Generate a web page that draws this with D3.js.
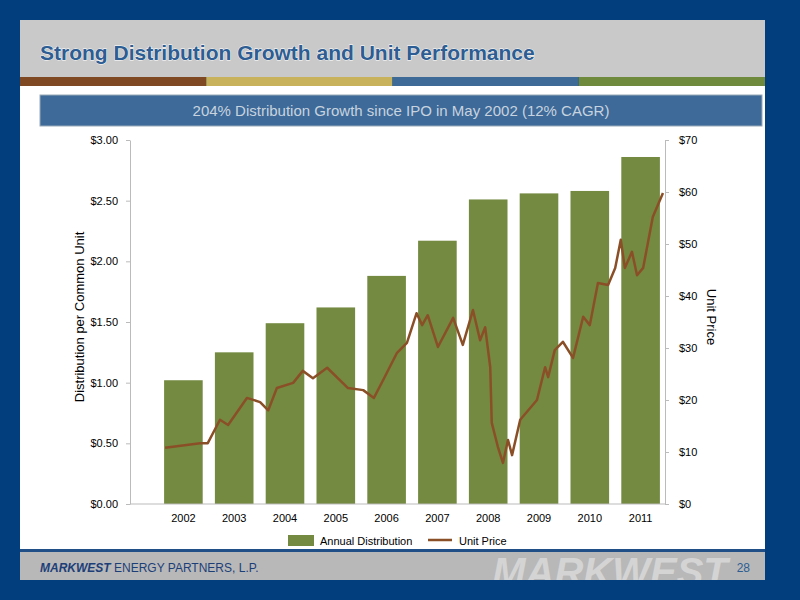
<!DOCTYPE html>
<html>
<head>
<meta charset="utf-8">
<script src="https://cdn.jsdelivr.net/npm/d3@7"></script>
<style>
  body { margin: 0; background: #023e7d; }
  text { font-family: "Liberation Sans", Arial, sans-serif; }
</style>
</head>
<body>
<svg id="chart" width="800" height="600"></svg>
<script>
// Annual distribution per common unit, by year.
var years = ['2002', '2003', '2004', '2005', '2006', '2007', '2008', '2009', '2010', '2011'];
var distribution = [1.02, 1.25, 1.49, 1.62, 1.88, 2.17, 2.51, 2.56, 2.58, 2.86];

// Unit price (decimal year, dollars).
var priceDates = [2002.14, 2002.83, 2002.98, 2003.22, 2003.38, 2003.75, 2004.01, 2004.17, 2004.34, 2004.66,
  2004.85, 2005.05, 2005.33, 2005.74, 2006.04, 2006.25, 2006.43, 2006.70, 2006.90, 2007.09,
  2007.20, 2007.31, 2007.51, 2007.81, 2008.00, 2008.20, 2008.34, 2008.44, 2008.54, 2008.57,
  2008.69, 2008.79, 2008.89, 2008.97, 2009.13, 2009.46, 2009.62, 2009.68, 2009.81, 2009.97,
  2010.17, 2010.37, 2010.50, 2010.66, 2010.86, 2011.00, 2011.11, 2011.19, 2011.33, 2011.43,
  2011.55, 2011.74, 2011.94];
var prices = [10.8, 11.7, 11.7, 16.2, 15.2, 20.4, 19.6, 18.0, 22.3, 23.3,
  25.6, 24.2, 26.2, 22.3, 21.9, 20.4, 23.8, 29.0, 31.0, 36.7,
  34.4, 36.3, 30.2, 35.8, 30.6, 37.3, 31.5, 34.0, 26.3, 15.6,
  11.0, 7.9, 12.3, 9.4, 16.2, 20.0, 26.3, 24.4, 29.6, 31.2,
  28.1, 36.0, 34.4, 42.5, 42.1, 45.4, 50.8, 45.4, 48.5, 44.0,
  45.4, 55.2, 59.8];

// Tick labels.
var leftTicks = [0, 0.5, 1, 1.5, 2, 2.5, 3];
var rightTicks = [0, 10, 20, 30, 40, 50, 60, 70];

var svg = d3.select('#chart');

// Slide frame: header band, colour stripes, white body, grey footer.
svg.append('rect').attr('x', 20).attr('y', 20).attr('width', 745).attr('height', 57).attr('fill', '#c9c9c9');
svg.append('rect').attr('x', 20).attr('y', 86).attr('width', 745).attr('height', 463).attr('fill', '#fff');
svg.append('rect').attr('x', 20).attr('y', 552).attr('width', 745).attr('height', 28).attr('fill', '#b8b8b8');
svg.append('rect').attr('x', 20).attr('y', 549).attr('width', 745).attr('height', 3).attr('fill', '#1f4f86');
var stripes = ['#7f4a23', '#c8b25c', '#3d6a97', '#6f8a3c'];
stripes.forEach(function(c, i) {
  svg.append('rect').attr('x', 20 + i * 186.25).attr('y', 77).attr('width', 186.25).attr('height', 9).attr('fill', c);
});

svg.append('text').attr('x', 40).attr('y', 60).text('Strong Distribution Growth and Unit Performance')
  .attr('font-size', 21).attr('font-weight', 'bold').attr('fill', '#2d5d93')
  .attr('stroke', '#fff').attr('stroke-width', 0.8).attr('paint-order', 'stroke');

svg.append('rect').attr('x', 40).attr('y', 95).attr('width', 722).attr('height', 31)
  .attr('fill', '#3d6a99').attr('stroke', '#9aa9b8');
svg.append('text').attr('x', 401).attr('y', 116).attr('text-anchor', 'middle')
  .text('204% Distribution Growth since IPO in May 2002 (12% CAGR)')
  .attr('font-size', 15).attr('fill', '#c8d3df');

// Footer text; the watermark is clipped to the grey footer band.
svg.append('clipPath').attr('id', 'foot').append('rect')
  .attr('x', 20).attr('y', 552).attr('width', 745).attr('height', 28);
svg.append('text').attr('x', 610).attr('y', 586).attr('text-anchor', 'middle').attr('font-size', 40)
  .attr('clip-path', 'url(#foot)')
  .attr('font-weight', 'bold').attr('font-style', 'italic').attr('fill', '#d4d4d4').text('MARKWEST');
svg.append('text').attr('x', 40).attr('y', 572).attr('font-size', 12).attr('fill', '#1d3f78')
  .html('<tspan font-weight="bold" font-style="italic">MARKWEST</tspan> ENERGY PARTNERS, L.P.');
svg.append('text').attr('x', 750).attr('y', 572).attr('text-anchor', 'end').attr('font-size', 12)
  .attr('fill', '#2d5d93').text('28');

// Scales.
var x = d3.scaleBand().domain(years).range([158, 666]).paddingInner(0.24).paddingOuter(0.12);
var xt = d3.scaleLinear().domain([2002, 2012]).range([158, 666]);
var yL = d3.scaleLinear().domain([0, 3]).range([504, 140]);
var yR = d3.scaleLinear().domain([0, 70]).range([504, 140]);

// Bars.
svg.append('g').selectAll('rect').data(distribution).join('rect')
  .attr('x', function(d, i) { return x(years[i]); })
  .attr('y', function(d) { return yL(d); })
  .attr('width', x.bandwidth())
  .attr('height', function(d) { return yL(0) - yL(d); })
  .attr('fill', '#748a41');

// Unit price line.
var line = d3.line().x(function(d, i) { return xt(priceDates[i]); }).y(function(d) { return yR(d); });
svg.append('path').datum(prices).attr('d', line).attr('fill', 'none')
  .attr('stroke', '#8b4f27').attr('stroke-width', 2.5).attr('stroke-linejoin', 'round');

// Axes.
function styleAxis(g) {
  g.select('.domain').attr('stroke', '#bbb');
  g.selectAll('.tick line').attr('stroke', '#bbb');
  g.selectAll('.tick text').attr('font-size', 11).attr('fill', '#000').attr('font-family', '"Liberation Sans", Arial, sans-serif');
}
svg.append('g').attr('transform', 'translate(130,0)')
  .call(d3.axisLeft(yL).tickValues(leftTicks).tickFormat(d3.format('$.2f')).tickSize(4).tickSizeOuter(0).tickPadding(8))
  .call(styleAxis);
svg.append('g').attr('transform', 'translate(665,0)')
  .call(d3.axisRight(yR).tickValues(rightTicks).tickFormat(function(d) { return '$' + d; }).tickSize(4).tickSizeOuter(0).tickPadding(10))
  .call(styleAxis);
svg.append('g').attr('transform', 'translate(0,504)')
  .call(d3.axisBottom(x).tickSize(0).tickPadding(10))
  .call(styleAxis)
  .select('.domain').attr('d', 'M130,0H665');

svg.append('text').attr('transform', 'translate(84,317) rotate(-90)').attr('text-anchor', 'middle')
  .attr('font-size', 13).text('Distribution per Common Unit');
svg.append('text').attr('transform', 'translate(707,317) rotate(90)').attr('text-anchor', 'middle')
  .attr('font-size', 13).text('Unit Price');

// Legend.
var lg = svg.append('g').attr('font-size', 11);
lg.append('rect').attr('x', 288).attr('y', 535).attr('width', 26).attr('height', 11).attr('fill', '#748a41');
lg.append('text').attr('x', 320).attr('y', 545).text('Annual Distribution');
lg.append('line').attr('x1', 428).attr('x2', 452).attr('y1', 540).attr('y2', 540).attr('stroke', '#8b4f27').attr('stroke-width', 2.5);
lg.append('text').attr('x', 459).attr('y', 545).text('Unit Price');
</script>
</body>
</html>
